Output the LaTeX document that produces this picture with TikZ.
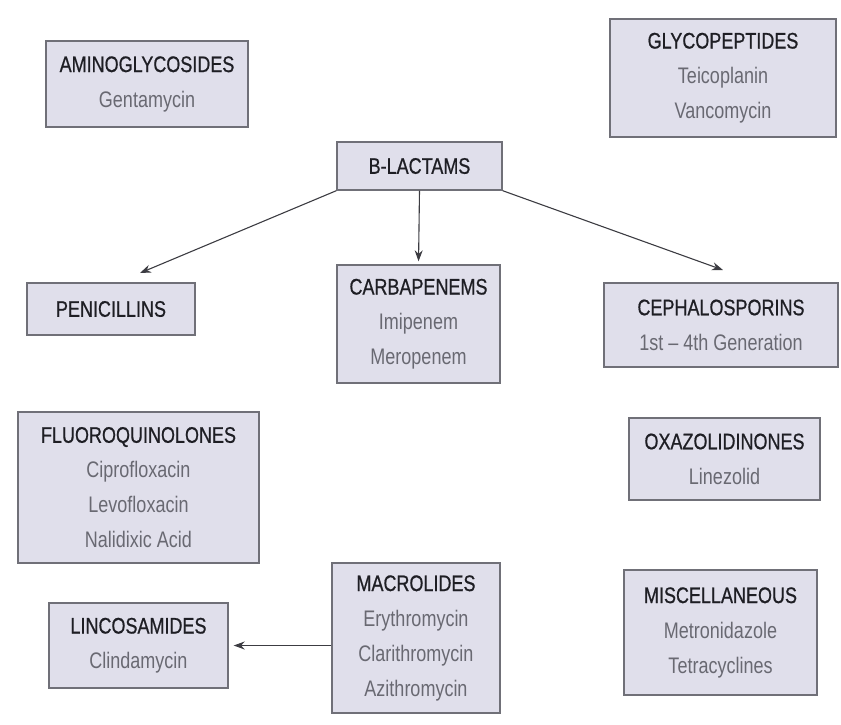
\documentclass[tikz,border=0pt]{standalone}
\usepackage{fontspec}
\setmainfont[FakeStretch=0.8]{Liberation Sans}
\newfontfamily\ttlfont[FakeStretch=0.8,FakeBold=0.7]{Liberation Sans}
\usetikzlibrary{arrows.meta}
\definecolor{boxfill}{RGB}{224,223,235}
\definecolor{boxline}{RGB}{112,112,120}
\definecolor{titlecol}{RGB}{30,30,36}
\definecolor{subcol}{RGB}{105,105,114}
\definecolor{arrcol}{RGB}{60,60,66}
\tikzset{
  drugbox/.style={draw=boxline, line width=1.4pt, fill=boxfill, inner sep=0pt,
    align=center, text=subcol, font=\fontsize{22.5pt}{35pt}\selectfont},
  arr/.style={draw=arrcol, line width=1.1pt, -{Stealth[length=11pt,width=8pt]}}
}
\newcommand{\ttl}[1]{{\ttlfont\textcolor{titlecol}{#1}}}
\begin{document}
\begin{tikzpicture}[x=1pt,y=-1pt]
\useasboundingbox (0,0) rectangle (841,724);
\node[drugbox, minimum width=202pt, minimum height=86pt] (amino) at (147,84)
  {\ttl{AMINOGLYCOSIDES}\\Gentamycin};
\node[drugbox, minimum width=226pt, minimum height=118pt] (glyco) at (723,78)
  {\ttl{GLYCOPEPTIDES}\\Teicoplanin\\Vancomycin};
\node[drugbox, minimum width=165pt, minimum height=48pt] (blact) at (419.5,166)
  {\ttl{B-LACTAMS}};
\node[drugbox, minimum width=168pt, minimum height=52pt] (pen) at (111,309)
  {\ttl{PENICILLINS}};
\node[drugbox, minimum width=163pt, minimum height=118pt] (carb) at (418.5,324)
  {\ttl{CARBAPENEMS}\\Imipenem\\Meropenem};
\node[drugbox, minimum width=234pt, minimum height=84pt] (ceph) at (721,325)
  {\ttl{CEPHALOSPORINS}\\1st -- 4th Generation};
\node[drugbox, minimum width=241pt, minimum height=151pt] (fluoro) at (138.5,487.5)
  {\ttl{FLUOROQUINOLONES}\\Ciprofloxacin\\Levofloxacin\\Nalidixic Acid};
\node[drugbox, minimum width=179pt, minimum height=85pt] (linc) at (138.5,645.5)
  {\ttl{LINCOSAMIDES}\\Clindamycin};
\node[drugbox, minimum width=168pt, minimum height=150pt] (mac) at (416,638)
  {\ttl{MACROLIDES}\\Erythromycin\\Clarithromycin\\Azithromycin};
\node[drugbox, minimum width=191pt, minimum height=82pt] (oxa) at (724.5,459)
  {\ttl{OXAZOLIDINONES}\\Linezolid};
\node[drugbox, minimum width=193pt, minimum height=125pt] (misc) at (720.5,632.5)
  {\ttl{MISCELLANEOUS}\\Metronidazole\\Tetracyclines};
\coordinate (penTip) at (140,273);
\coordinate (cephTip) at (723,270);
\draw[arr] (blact.south west) -- (penTip);
\draw[arr, shorten >=3pt] (blact.south) -- (carb.north);
\draw[arr] (blact.south east) -- (cephTip);
\draw[arr, shorten >=5pt] (mac.west |- linc.east) -- (linc.east);
\end{tikzpicture}
\end{document}
